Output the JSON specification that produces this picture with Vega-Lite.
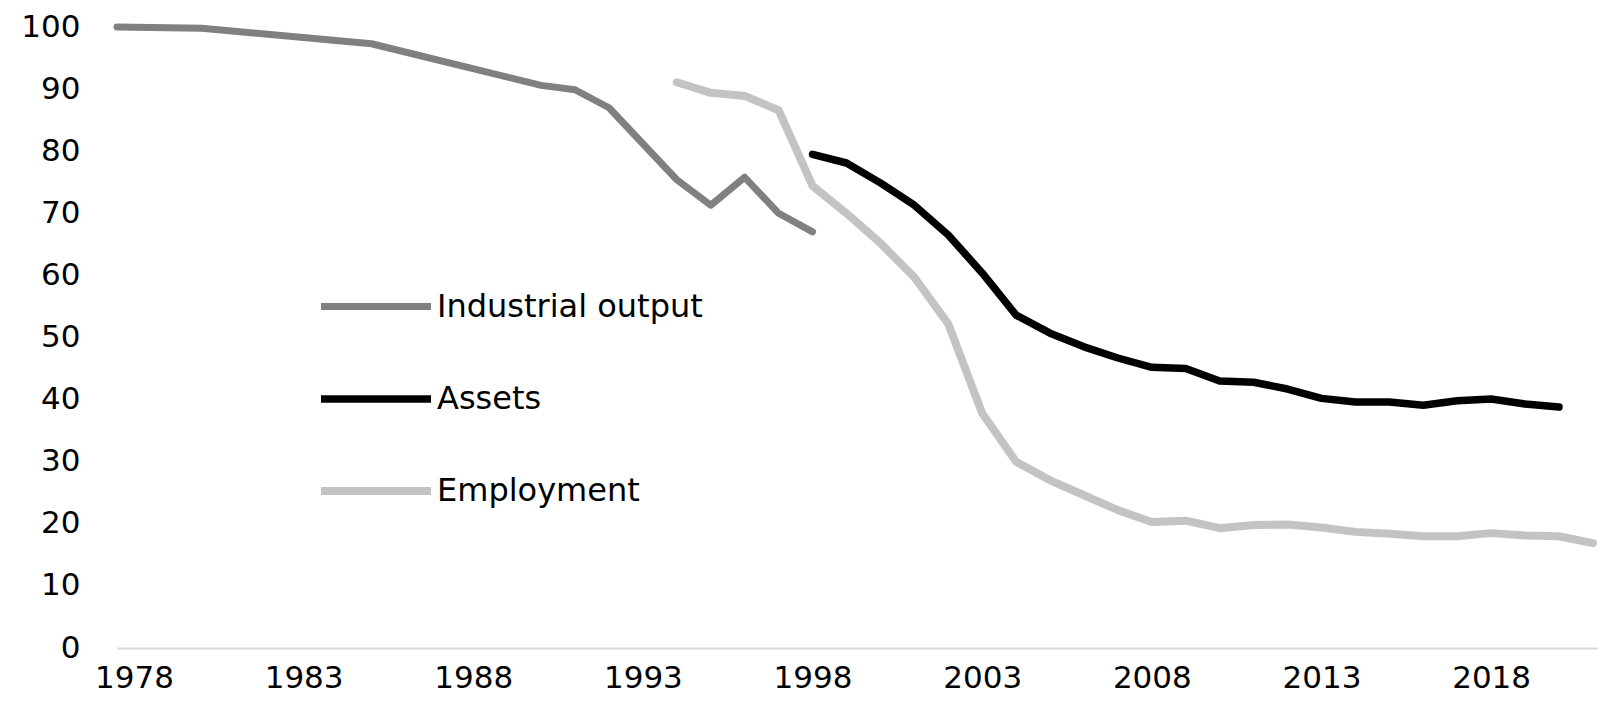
{
  "$schema": "https://vega.github.io/schema/vega-lite/v6.json",
  "autosize": {"type": "none"},
  "padding": {"left": 117, "top": 27, "right": 0, "bottom": 53},
  "width": 1481,
  "height": 621,
  "background": "white",
  "config": {
    "view": {"stroke": null},
    "font": "DejaVu Sans"
  },
  "data": {
    "values": [
      {"series": "Industrial output", "year": 1977.5, "value": 100},
      {"series": "Industrial output", "year": 1980, "value": 99.8},
      {"series": "Industrial output", "year": 1985, "value": 97.3},
      {"series": "Industrial output", "year": 1990, "value": 90.6},
      {"series": "Industrial output", "year": 1991, "value": 89.9},
      {"series": "Industrial output", "year": 1992, "value": 87.0},
      {"series": "Industrial output", "year": 1993, "value": 81.2},
      {"series": "Industrial output", "year": 1994, "value": 75.4},
      {"series": "Industrial output", "year": 1995, "value": 71.3},
      {"series": "Industrial output", "year": 1996, "value": 75.8},
      {"series": "Industrial output", "year": 1997, "value": 70.0},
      {"series": "Industrial output", "year": 1998, "value": 67.0},
      {"series": "Assets", "year": 1998, "value": 79.5},
      {"series": "Assets", "year": 1999, "value": 78.1},
      {"series": "Assets", "year": 2000, "value": 74.9},
      {"series": "Assets", "year": 2001, "value": 71.3},
      {"series": "Assets", "year": 2002, "value": 66.5},
      {"series": "Assets", "year": 2003, "value": 60.4},
      {"series": "Assets", "year": 2004, "value": 53.6},
      {"series": "Assets", "year": 2005, "value": 50.7},
      {"series": "Assets", "year": 2006, "value": 48.5},
      {"series": "Assets", "year": 2007, "value": 46.7},
      {"series": "Assets", "year": 2008, "value": 45.2},
      {"series": "Assets", "year": 2009, "value": 45.0},
      {"series": "Assets", "year": 2010, "value": 43.0},
      {"series": "Assets", "year": 2011, "value": 42.8},
      {"series": "Assets", "year": 2012, "value": 41.7},
      {"series": "Assets", "year": 2013, "value": 40.2},
      {"series": "Assets", "year": 2014, "value": 39.6},
      {"series": "Assets", "year": 2015, "value": 39.6},
      {"series": "Assets", "year": 2016, "value": 39.1},
      {"series": "Assets", "year": 2017, "value": 39.8},
      {"series": "Assets", "year": 2018, "value": 40.1},
      {"series": "Assets", "year": 2019, "value": 39.3},
      {"series": "Assets", "year": 2020, "value": 38.8},
      {"series": "Employment", "year": 1994, "value": 91.1},
      {"series": "Employment", "year": 1995, "value": 89.4},
      {"series": "Employment", "year": 1996, "value": 88.9},
      {"series": "Employment", "year": 1997, "value": 86.6},
      {"series": "Employment", "year": 1998, "value": 74.4},
      {"series": "Employment", "year": 1999, "value": 70.0},
      {"series": "Employment", "year": 2000, "value": 65.2},
      {"series": "Employment", "year": 2001, "value": 59.7},
      {"series": "Employment", "year": 2002, "value": 52.2},
      {"series": "Employment", "year": 2003, "value": 37.8},
      {"series": "Employment", "year": 2004, "value": 30.0},
      {"series": "Employment", "year": 2005, "value": 27.0},
      {"series": "Employment", "year": 2006, "value": 24.6},
      {"series": "Employment", "year": 2007, "value": 22.2},
      {"series": "Employment", "year": 2008, "value": 20.3},
      {"series": "Employment", "year": 2009, "value": 20.5},
      {"series": "Employment", "year": 2010, "value": 19.3},
      {"series": "Employment", "year": 2011, "value": 19.8},
      {"series": "Employment", "year": 2012, "value": 19.9},
      {"series": "Employment", "year": 2013, "value": 19.4},
      {"series": "Employment", "year": 2014, "value": 18.7},
      {"series": "Employment", "year": 2015, "value": 18.4},
      {"series": "Employment", "year": 2016, "value": 18.0},
      {"series": "Employment", "year": 2017, "value": 18.0},
      {"series": "Employment", "year": 2018, "value": 18.5},
      {"series": "Employment", "year": 2019, "value": 18.1},
      {"series": "Employment", "year": 2020, "value": 18.0},
      {"series": "Employment", "year": 2021, "value": 16.9}
    ]
  },
  "mark": {"type": "line", "strokeCap": "round", "strokeJoin": "round"},
  "encoding": {
    "x": {
      "field": "year",
      "type": "quantitative",
      "scale": {"domain": [1977.5, 2021.15], "nice": false, "zero": false},
      "axis": {
        "title": null,
        "values": [1978, 1983, 1988, 1993, 1998, 2003, 2008, 2013, 2018],
        "format": "d",
        "grid": false,
        "ticks": false,
        "domainColor": "#d9d9d9",
        "domainWidth": 2,
        "labelFontSize": 31,
        "labelColor": "#000000",
        "labelPadding": 15,
        "labelFlush": false,
        "labelOverlap": false
      }
    },
    "y": {
      "field": "value",
      "type": "quantitative",
      "scale": {"domain": [0, 100], "nice": false},
      "axis": {
        "title": null,
        "values": [0, 10, 20, 30, 40, 50, 60, 70, 80, 90, 100],
        "grid": false,
        "ticks": false,
        "domain": false,
        "labelFontSize": 31,
        "labelColor": "#000000",
        "labelPadding": 37,
        "labelFlush": false,
        "labelOverlap": false
      }
    },
    "strokeWidth": {
      "field": "series",
      "type": "nominal",
      "scale": {
        "domain": ["Industrial output", "Assets", "Employment"],
        "range": [7, 8, 7]
      },
      "legend": null
    },
    "color": {
      "field": "series",
      "type": "nominal",
      "scale": {
        "domain": ["Industrial output", "Assets", "Employment"],
        "range": ["#808080", "#000000", "#c3c3c3"]
      },
      "legend": {
        "title": null,
        "orient": "none",
        "legendX": 200,
        "legendY": 221,
        "padding": 0,
        "symbolType": "stroke",
        "symbolSize": 12100,
        "symbolStrokeWidth": 7,
        "labelFontSize": 32,
        "labelColor": "#000000",
        "labelOffset": 2,
        "labelLimit": 0,
        "rowPadding": 17
      }
    }
  }
}
